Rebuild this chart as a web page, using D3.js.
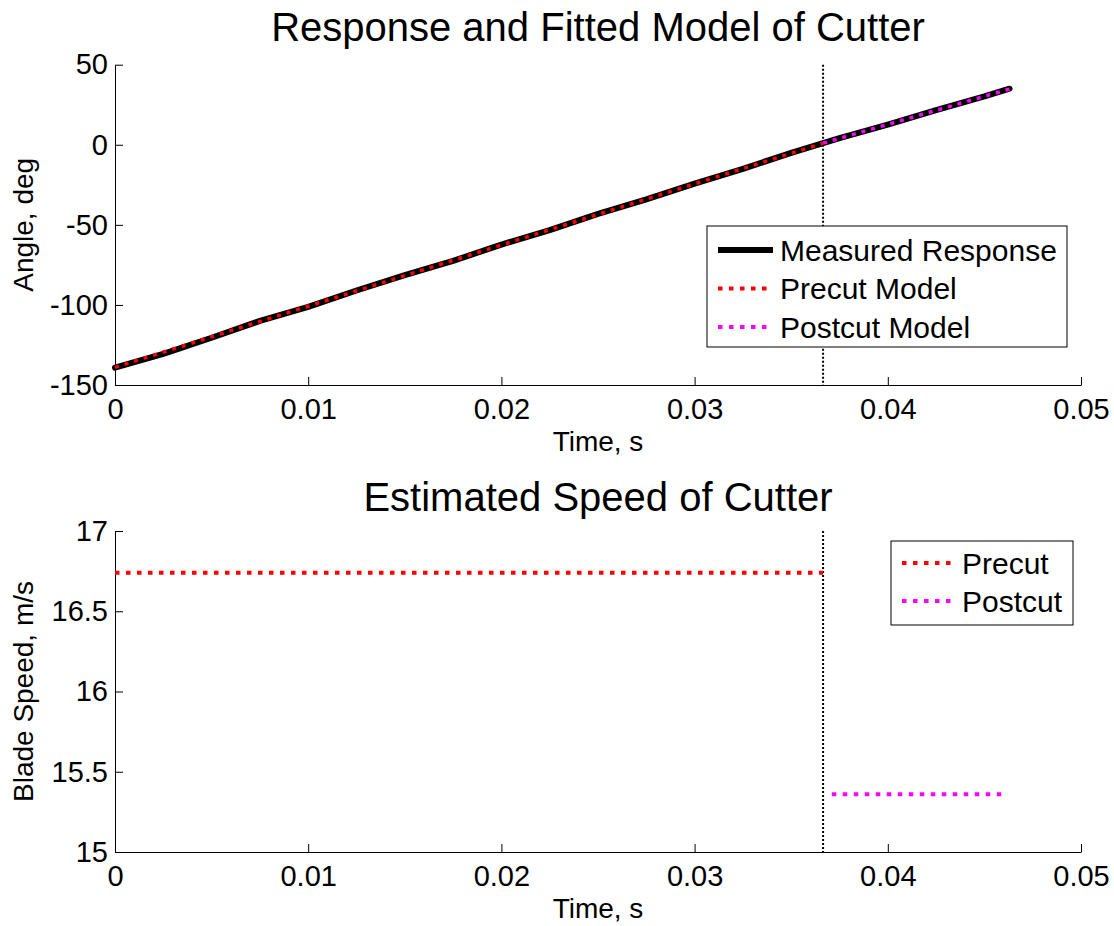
<!DOCTYPE html>
<html><head><meta charset="utf-8">
<script src="https://cdn.jsdelivr.net/npm/d3@7"></script>
<style>body{margin:0;background:#fff}svg{display:block;font-family:"Liberation Sans",Arial,sans-serif}</style>
</head><body><svg id="c" width="1114" height="926"></svg>
<script>
// ---- data ----
const measuredTime  = [0,0.0025,0.005,0.0075,0.01,0.0125,0.015,0.0175,0.02,0.0225,0.025,0.0275,0.03,0.0325,0.035,0.03665,0.0375,0.04,0.0425,0.045,0.0463];
const measuredAngle = [-139.2,-130.6,-120.5,-110.0,-101.2,-91.0,-81.4,-72.5,-62.3,-53.3,-43.2,-34.1,-24.2,-15.0,-5.1,1.0,4.2,12.6,21.7,30.2,35.0];
const precutModelTime  = [0,0.03665];
const precutModelAngle = [-139.0,1.0];
const postcutModelTime  = [0.03665,0.0463];
const postcutModelAngle = [1.0,34.8];
const cutTime = 0.03665;
const precutSpeedTime = [0,0.03665];
const precutSpeed = [16.74,16.74];
const postcutSpeedTime = [0.0371,0.0461];
const postcutSpeed = [15.36,15.36];
const xTicks = [0,0.01,0.02,0.03,0.04,0.05];
const angleTicks = [50,0,-50,-100,-150];
const speedTicks = [17,16.5,16,15.5,15];
const topLegend = ["Measured Response","Precut Model","Postcut Model"];
const bottomLegend = ["Precut","Postcut"];

const svg = d3.select("#c");
const X0=115, X1=1081;
const x = d3.scaleLinear().domain([0,0.05]).range([X0,X1]);
const yA = d3.scaleLinear().domain([-150,50]).range([385,64.7]);
const yS = d3.scaleLinear().domain([15,17]).range([852,531]);
const fmtX = d => d===0?"0":d3.format(".2f")(d);
const fmtA = d => String(d);

function axes(y, ticks, fmtY, title, ylabel, titleY, xlabY){
  const top=y.range()[1], bot=y.range()[0];
  const gx = svg.append("g").attr("transform",`translate(0,${bot})`)
    .call(d3.axisBottom(x).tickValues(xTicks).tickFormat(fmtX).tickSizeInner(-8).tickSizeOuter(0).tickPadding(13));
  const gy = svg.append("g").attr("transform",`translate(${X0},0)`)
    .call(d3.axisLeft(y).tickValues(ticks).tickFormat(fmtY).tickSizeInner(-8).tickSizeOuter(0).tickPadding(7));
  [gx,gy].forEach(g=>{g.selectAll("text").attr("font-size",29).attr("fill","#000").attr("font-family","Liberation Sans, Arial, sans-serif");
    g.selectAll("line,path").attr("stroke","#000");});
  gx.selectAll("text").attr("dy","0.71em");
  svg.append("text").attr("x",(X0+X1)/2).attr("y",titleY).attr("text-anchor","middle").attr("font-size",40).text(title);
  svg.append("text").attr("x",(X0+X1)/2).attr("y",xlabY).attr("text-anchor","middle").attr("font-size",28).text("Time, s");
  svg.append("text").attr("transform",`translate(33,${(top+bot)/2}) rotate(-90)`).attr("text-anchor","middle").attr("font-size",28).text(ylabel);
  svg.append("line").attr("x1",x(cutTime)).attr("x2",x(cutTime)).attr("y1",top).attr("y2",bot)
    .attr("stroke","#000").attr("stroke-width",2).attr("stroke-dasharray","2,2");
}

axes(yA, angleTicks, fmtA, "Response and Fitted Model of Cutter", "Angle, deg", 41, 451);
axes(yS, speedTicks, d=>String(d), "Estimated Speed of Cutter", "Blade Speed, m/s", 511, 918);

const lineA = d3.line().x(d=>x(d[0])).y(d=>yA(d[1]));
const lineS = d3.line().x(d=>x(d[0])).y(d=>yS(d[1]));
svg.append("path").attr("d",lineA(d3.zip(measuredTime,measuredAngle))).attr("fill","none").attr("stroke","#000").attr("stroke-width",6).attr("stroke-linejoin","round").attr("stroke-linecap","round");
svg.append("path").attr("d",lineA(d3.zip(precutModelTime,precutModelAngle))).attr("fill","none").attr("stroke","#ff0000").attr("stroke-width",3.5).attr("stroke-dasharray","4,6");
svg.append("path").attr("d",lineA(d3.zip(postcutModelTime,postcutModelAngle))).attr("fill","none").attr("stroke","#ff00ff").attr("stroke-width",3.5).attr("stroke-dasharray","4,6");
svg.append("path").attr("d",lineS(d3.zip(precutSpeedTime,precutSpeed))).attr("fill","none").attr("stroke","#ff0000").attr("stroke-width",4).attr("stroke-dasharray","4.5,6.5");
svg.append("path").attr("d",lineS(d3.zip(postcutSpeedTime,postcutSpeed))).attr("fill","none").attr("stroke","#ff00ff").attr("stroke-width",4).attr("stroke-dasharray","4.5,6.5");

// legends
function legend(bx,by,bw,bh,items,styles,rowY0,rowH,sx0,sx1,tx){
  svg.append("rect").attr("x",bx).attr("y",by).attr("width",bw).attr("height",bh).attr("fill","#fff").attr("stroke","#000").attr("stroke-width",1);
  items.forEach((t,i)=>{
    const yy=rowY0+i*rowH, s=styles[i];
    svg.append("line").attr("x1",sx0).attr("x2",sx1).attr("y1",yy).attr("y2",yy).attr("stroke",s.c).attr("stroke-width",s.w).attr("stroke-dasharray",s.d||null);
    svg.append("text").attr("x",tx).attr("y",yy).attr("dy","0.35em").attr("font-size",30).text(t);
  });
}
legend(707,226,360,121,topLegend,[{c:"#000",w:6},{c:"#ff0000",w:4,d:"4.5,6.5"},{c:"#ff00ff",w:4,d:"4.5,6.5"}],250,38.5,718,773,780);
legend(891,541,182,84,bottomLegend,[{c:"#ff0000",w:4,d:"4.5,6.5"},{c:"#ff00ff",w:4,d:"4.5,6.5"}],563,38,902,953,962);
</script></body></html>
